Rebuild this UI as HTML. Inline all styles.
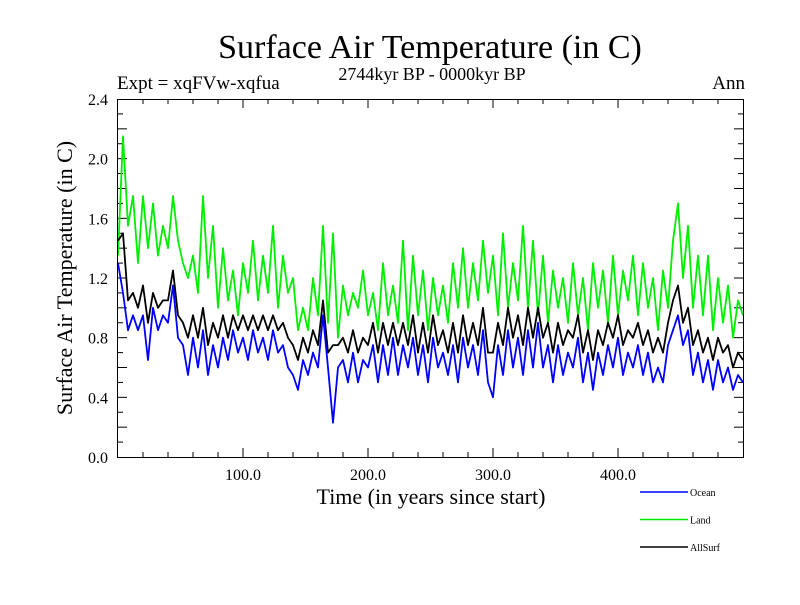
<!DOCTYPE html>
<html><head><meta charset="utf-8"><style>
body{margin:0;background:#fff}
svg text{font-family:"Liberation Serif",serif;fill:#000}
</style></head><body>
<svg id="chart" width="800" height="600" viewBox="0 0 800 600" xmlns="http://www.w3.org/2000/svg">
<rect width="800" height="600" fill="#fff"/>
<text x="430" y="58" font-size="34" text-anchor="middle">Surface Air Temperature (in C)</text>
<text x="432" y="80" font-size="18" text-anchor="middle">2744kyr BP - 0000kyr BP</text>
<text x="117" y="89" font-size="19">Expt = xqFVw-xqfua</text>
<text x="745" y="89" font-size="19" text-anchor="end">Ann</text>
<text transform="translate(72,278) rotate(-90)" font-size="22" text-anchor="middle">Surface Air Temperature (in C)</text>
<text x="431" y="504" font-size="22" text-anchor="middle">Time (in years since start)</text>
<g id="ticks"></g>
<g id="series"></g>
<rect x="117.5" y="99.5" width="626" height="358" fill="none" stroke="#000" stroke-width="1"/>
<g id="legend" font-family="Liberation Sans,sans-serif"></g>
</svg>
<script>
const years=[];for(let i=0;i<=125;i++)years.push(i*4);
const land=[1.35,2.15,1.55,1.75,1.3,1.75,1.4,1.7,1.35,1.55,1.4,1.75,1.45,1.3,1.2,1.35,1.1,1.75,1.2,1.55,1.0,1.4,1.05,1.25,0.95,1.3,1.1,1.45,1.05,1.35,1.1,1.55,1.0,1.35,1.1,1.2,0.85,1.0,0.85,1.2,0.95,1.55,0.9,1.5,0.8,1.15,0.95,1.1,1.0,1.25,0.95,1.1,0.85,1.3,0.95,1.15,0.9,1.45,0.85,1.35,0.95,1.25,0.85,1.2,0.95,1.15,0.9,1.3,1.0,1.4,1.0,1.3,1.05,1.45,1.1,1.35,0.95,1.5,1.0,1.3,1.05,1.55,1.0,1.45,0.95,1.35,0.9,1.25,1.0,1.2,0.9,1.3,0.95,1.2,0.85,1.3,1.0,1.25,0.9,1.35,0.95,1.25,1.05,1.35,0.95,1.3,1.0,1.2,0.85,1.25,1.0,1.45,1.7,1.2,1.55,1.0,1.35,0.95,1.35,0.85,1.2,0.9,1.15,0.8,1.05,0.95];
const ocean=[1.3,1.1,0.85,0.95,0.85,0.95,0.65,1.0,0.85,0.95,0.9,1.15,0.8,0.75,0.55,0.8,0.6,0.85,0.55,0.75,0.6,0.8,0.65,0.85,0.7,0.8,0.65,0.85,0.7,0.8,0.65,0.85,0.7,0.75,0.6,0.55,0.45,0.65,0.55,0.7,0.6,0.95,0.6,0.23,0.6,0.65,0.5,0.7,0.5,0.65,0.6,0.75,0.5,0.75,0.55,0.8,0.55,0.75,0.6,0.8,0.55,0.75,0.5,0.8,0.6,0.7,0.55,0.75,0.5,0.8,0.6,0.75,0.55,0.85,0.5,0.4,0.75,0.55,0.85,0.6,0.8,0.55,0.85,0.6,0.9,0.6,0.75,0.5,0.75,0.55,0.7,0.6,0.8,0.5,0.7,0.45,0.7,0.55,0.75,0.6,0.8,0.55,0.7,0.6,0.75,0.55,0.7,0.5,0.6,0.5,0.75,0.85,0.95,0.75,0.85,0.55,0.7,0.5,0.65,0.45,0.65,0.5,0.6,0.45,0.55,0.5];
const allsurf=[1.45,1.5,1.05,1.1,1.0,1.15,0.9,1.1,1.0,1.05,1.05,1.25,0.95,0.9,0.8,0.95,0.8,1.0,0.75,0.9,0.8,0.95,0.8,0.95,0.85,0.95,0.85,0.95,0.85,0.95,0.85,0.95,0.85,0.9,0.8,0.75,0.65,0.8,0.7,0.85,0.75,1.05,0.7,0.75,0.75,0.8,0.7,0.85,0.7,0.8,0.75,0.9,0.7,0.9,0.75,0.9,0.75,0.9,0.75,0.95,0.7,0.9,0.7,0.95,0.75,0.85,0.7,0.9,0.7,0.95,0.75,0.9,0.75,1.0,0.7,0.7,0.9,0.75,1.0,0.8,0.95,0.75,1.0,0.8,1.0,0.8,0.9,0.7,0.9,0.75,0.85,0.8,0.95,0.7,0.85,0.65,0.85,0.75,0.9,0.8,0.95,0.75,0.85,0.8,0.9,0.75,0.85,0.7,0.8,0.7,0.9,1.05,1.15,0.9,1.0,0.75,0.85,0.7,0.8,0.65,0.8,0.7,0.75,0.6,0.7,0.65];
const xTickLabels=["100.0","200.0","300.0","400.0"];
const yTickLabels=["0.0","0.4","0.8","1.2","1.6","2.0","2.4"];
const seriesNames=["Ocean","Land","AllSurf"];
const seriesColors=["#0000ff","#00ee00","#000000"];

const X0=118,X1=743,Y0=457,Y1=99;
const xs=v=>X0+(v/500)*(X1-X0);
const ys=v=>Y0-(v/2.4)*(Y0-Y1);
const NS="http://www.w3.org/2000/svg";
const mk=(t,a)=>{const e=document.createElementNS(NS,t);for(const k in a)e.setAttribute(k,a[k]);return e;};
const tg=document.getElementById('ticks');
for(let v=20;v<500;v+=20){const maj=v%100===0;const L=maj?9:5;
 const a=mk('line',{x1:xs(v),x2:xs(v),y1:Y0,y2:Y0-L,stroke:'#000'});
 
 tg.appendChild(a);
 const b=mk('line',{x1:xs(v),x2:xs(v),y1:Y1,y2:Y1+L,stroke:'#000'});
 
 tg.appendChild(b);}
xTickLabels.forEach(s=>{const t=mk('text',{x:xs(parseFloat(s)),y:480,'font-size':16,'text-anchor':'middle'});t.textContent=s;
 
 tg.appendChild(t);});
for(let i=1;i<24;i++){const v=i/10;const maj=i%2===0;const L=maj?9:5;
 const a=mk('line',{x1:X0,x2:X0+L,y1:ys(v),y2:ys(v),stroke:'#000'});
 
 tg.appendChild(a);
 const b=mk('line',{x1:X1,x2:X1-L,y1:ys(v),y2:ys(v),stroke:'#000'});
 
 tg.appendChild(b);}
yTickLabels.forEach(s=>{const t=mk('text',{x:108,y:ys(parseFloat(s))+6,'font-size':16,'text-anchor':'end'});t.textContent=s;
 
 tg.appendChild(t);});
const sg=document.getElementById('series');
[[land,1],[allsurf,2],[ocean,0]].forEach(([d,i])=>{
 const p=mk('polyline',{points:d.map((v,j)=>xs(years[j]).toFixed(1)+','+ys(v).toFixed(1)).join(' '),fill:'none',stroke:seriesColors[i],'stroke-width':1.8,'stroke-linejoin':'round'});
 
 sg.appendChild(p);});
const lg=document.getElementById('legend');
seriesNames.forEach((n,i)=>{const y=492+i*27.5;
 const l=mk('line',{x1:640,x2:688,y1:y,y2:y,stroke:seriesColors[i],'stroke-width':1.5});
 
 lg.appendChild(l);
 const t=mk('text',{x:690,y:y+4,'font-size':10,'font-family':'Liberation Sans,sans-serif'});t.textContent=n;
 
 lg.appendChild(t);});
</script>
</body></html>
